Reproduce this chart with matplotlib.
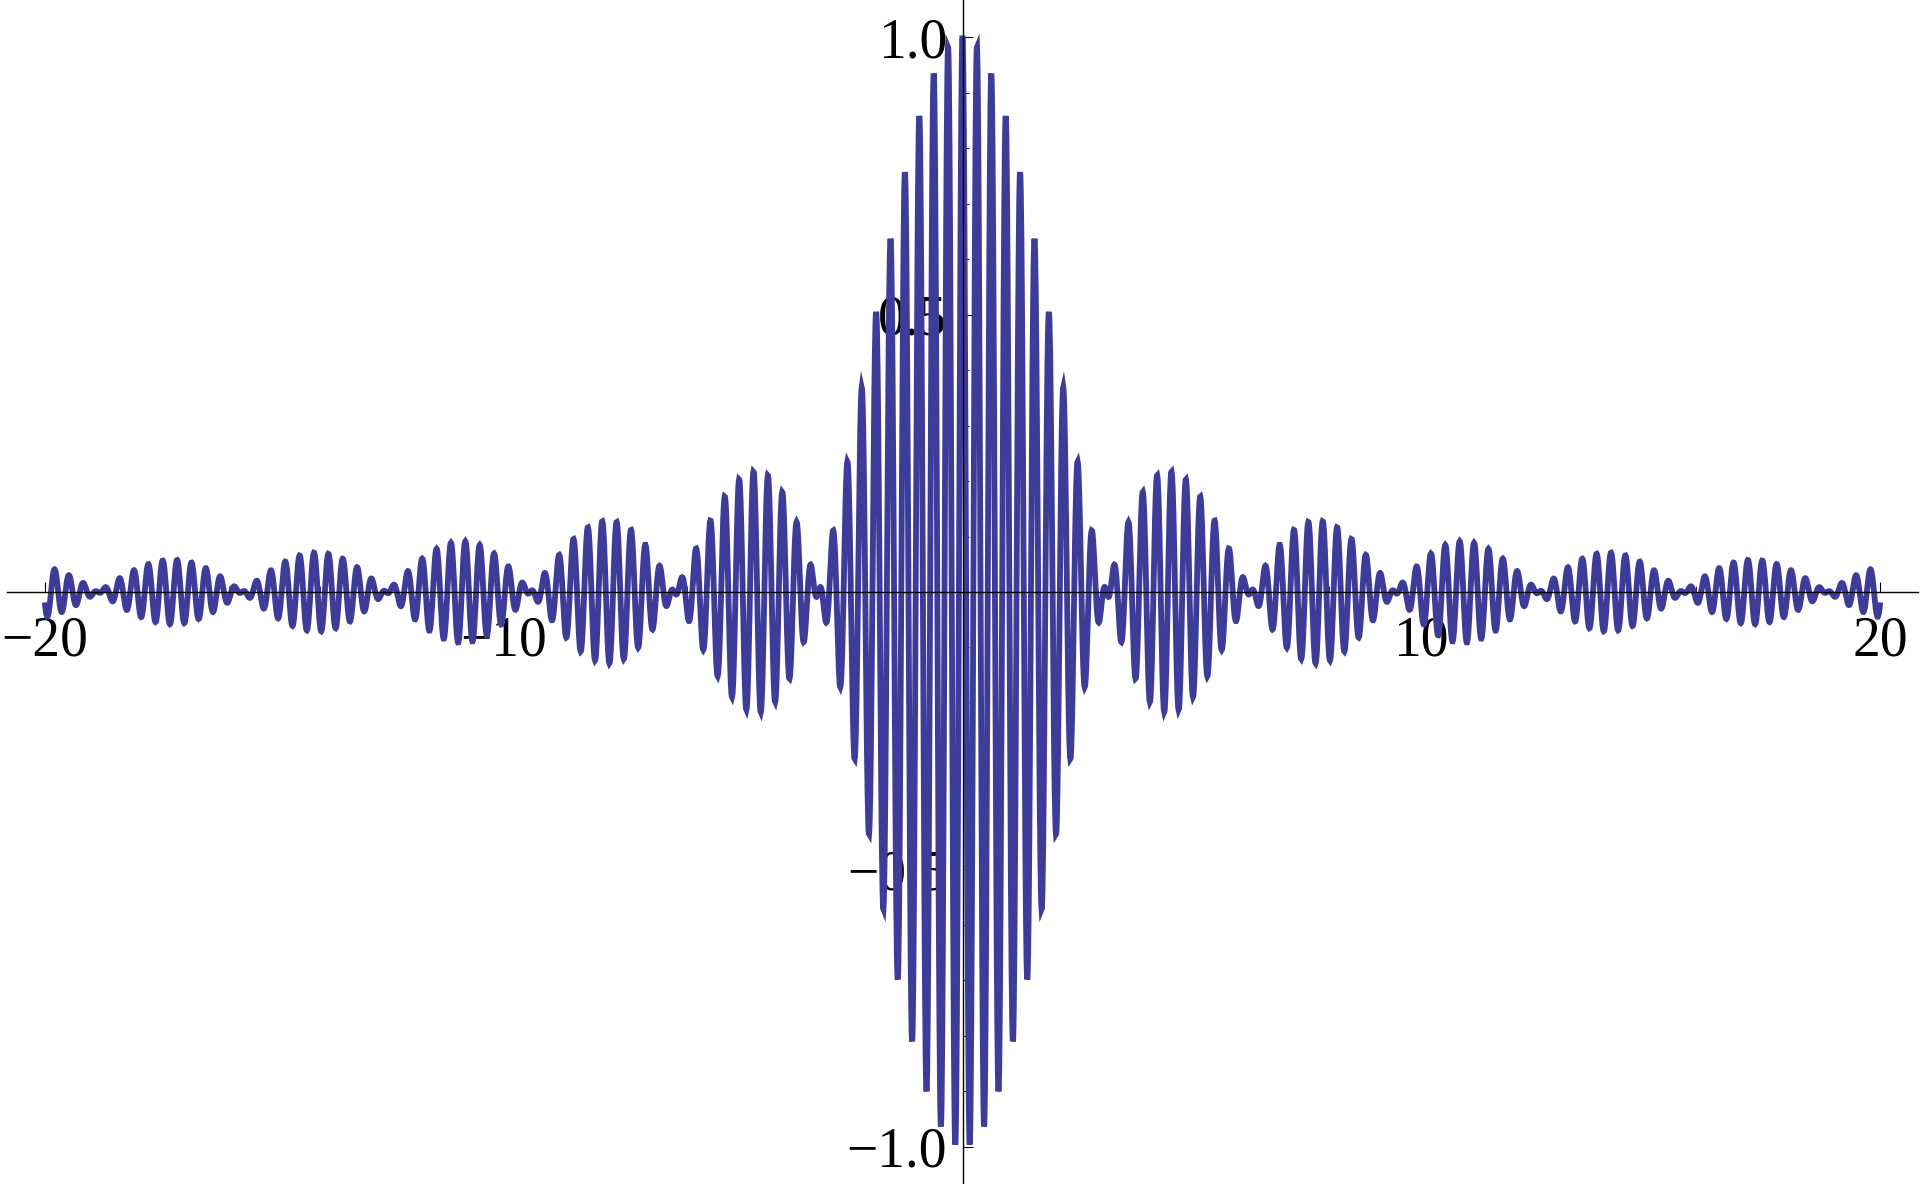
import numpy as np
import matplotlib.pyplot as plt
from matplotlib.ticker import MultipleLocator, FixedLocator

# curve: sinc envelope times a fast cosine carrier
X_START, X_END = -20, 20
CARRIER = 20
N_SAMPLES = 6000

x_major = [-20, -10, 10, 20]
y_major = [-1.0, -0.5, 0.5, 1.0]
x_labels = ["\u221220", "\u221210", "10", "20"]
y_labels = ["\u22121.0", "\u22120.5", "0.5", "1.0"]

LINE_COLOR = "#3d3d99"

plt.rcParams["font.family"] = ["Liberation Serif", "DejaVu Serif"]
plt.rcParams["font.size"] = 40

x = np.linspace(X_START, X_END, N_SAMPLES)
y = np.sinc(x / np.pi) * np.cos(CARRIER * x)

fig = plt.figure(figsize=(19.2, 11.84), dpi=100)
ax = fig.add_axes([7 / 1920, 0, 1911 / 1920, 1])

ax.plot(x, y, color=LINE_COLOR, lw=4.2, solid_joinstyle="miter", zorder=2)

ax.set_xlim(-20.83, 20.83)
ax.set_ylim(-1.067, 1.067)

for side in ["top", "right"]:
    ax.spines[side].set_visible(False)
ax.spines["left"].set_position(("data", 0))
ax.spines["bottom"].set_position(("data", 0))
for side in ["left", "bottom"]:
    ax.spines[side].set_linewidth(1.0)
    ax.spines[side].set_zorder(3)

ax.xaxis.set_major_locator(FixedLocator(x_major))
ax.yaxis.set_major_locator(FixedLocator(y_major))
ax.xaxis.set_minor_locator(MultipleLocator(2))
ax.yaxis.set_minor_locator(MultipleLocator(0.1))
ax.set_xticklabels(x_labels)
ax.set_yticklabels(y_labels)

# ticks point into the positive side like Mathematica
ax.tick_params(axis="x", which="major", direction="in", length=7, width=0.8, pad=17, labelsize=40)
ax.tick_params(axis="x", which="minor", direction="in", length=4, width=0.6)
ax.tick_params(axis="y", which="major", direction="in", length=7, width=0.8, pad=11, labelsize=40)
ax.tick_params(axis="y", which="minor", direction="in", length=4, width=0.6)

ax.patch.set_visible(False)
fig.savefig("out.png", dpi=100, facecolor="white")
